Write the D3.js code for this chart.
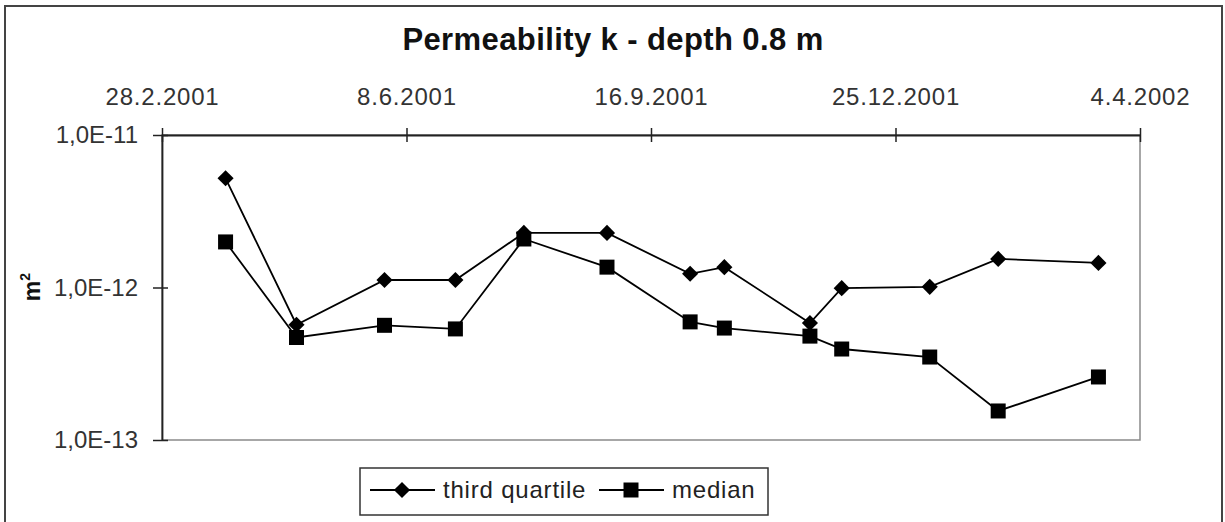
<!DOCTYPE html>
<html lang="en">
<head>
    <meta charset="UTF-8">
    <title>Permeability k - depth 0.8 m</title>
    <script src="https://d3js.org/d3.v7.min.js"></script>
    <style>
        body { margin: 0; background: #fff; }
        svg { display: block; font-family: "Liberation Sans", Arial, sans-serif; }
    </style>
</head>
<body>
    <div id="chart"></div>
    <script>
        // sampling dates (day, month, year)
        var dates = [
            [26, 3, 2001], [24, 4, 2001], [30, 5, 2001], [28, 6, 2001],
            [26, 7, 2001], [29, 8, 2001], [2, 10, 2001], [16, 10, 2001],
            [20, 11, 2001], [3, 12, 2001], [8, 1, 2002], [5, 2, 2002],
            [18, 3, 2002]
        ];
        // permeability in m2
        var thirdQuartile = [5.2e-12, 5.7e-13, 1.12e-12, 1.12e-12, 2.28e-12, 2.28e-12,
            1.23e-12, 1.36e-12, 5.85e-13, 9.9e-13, 1.01e-12, 1.54e-12, 1.45e-12];
        var median = [1.99e-12, 4.7e-13, 5.65e-13, 5.35e-13, 2.08e-12, 1.36e-12,
            5.95e-13, 5.42e-13, 4.8e-13, 3.95e-13, 3.5e-13, 1.55e-13, 2.59e-13];
        // top axis tick dates
        var xTicks = [[28, 2, 2001], [8, 6, 2001], [16, 9, 2001], [25, 12, 2001], [4, 4, 2002]];
        var yTicks = [1e-11, 1e-12, 1e-13];

        function toDate(d) { return new Date(Date.UTC(d[2], d[1] - 1, d[0])); }

        var W = 1225, H = 522;
        var plot = {left: 162, top: 135, right: 1140, bottom: 440};

        var svg = d3.select("#chart").append("svg")
            .attr("width", W).attr("height", H);

        // outer frame
        svg.append("rect")
            .attr("x", 5).attr("y", 6).attr("width", 1217).attr("height", 530)
            .attr("fill", "none").attr("stroke", "#444").attr("stroke-width", 2);

        var x = d3.scaleUtc()
            .domain([toDate(xTicks[0]), toDate(xTicks[xTicks.length - 1])])
            .range([plot.left, plot.right]);
        var y = d3.scaleLog()
            .domain([1e-13, 1e-11])
            .range([plot.bottom, plot.top]);

        // plot area border (gray)
        svg.append("rect")
            .attr("x", plot.left).attr("y", plot.top)
            .attr("width", plot.right - plot.left).attr("height", plot.bottom - plot.top)
            .attr("fill", "none").attr("stroke", "#8a8a8a").attr("stroke-width", 1.5);

        // title
        svg.append("text")
            .attr("x", 613).attr("y", 50)
            .attr("text-anchor", "middle")
            .attr("font-size", 31).attr("font-weight", "bold")
            .attr("letter-spacing", 0.4)
            .attr("fill", "#111")
            .text("Permeability k - depth 0.8 m");

        // top date axis
        var fmt = function(d) {
            return d.getUTCDate() + "." + (d.getUTCMonth() + 1) + "." + d.getUTCFullYear();
        };
        var xAxis = svg.append("g")
            .attr("transform", "translate(0," + plot.top + ")")
            .call(d3.axisTop(x).tickValues(xTicks.map(toDate)).tickFormat(fmt)
                .tickSize(7).tickSizeOuter(0).tickPadding(23));
        xAxis.selectAll(".tick line").attr("y1", 7).attr("stroke", "#222").attr("stroke-width", 1.5);
        xAxis.select(".domain").attr("stroke", "#222").attr("stroke-width", 1.8);
        xAxis.selectAll("text").attr("font-size", 24).attr("fill", "#333")
            .attr("letter-spacing", 0.8)
            .attr("font-family", "Liberation Sans, Arial, sans-serif");

        // left log axis
        var yAxis = svg.append("g")
            .attr("transform", "translate(" + plot.left + ",0)")
            .call(d3.axisLeft(y).tickValues(yTicks)
                .tickFormat(function(d) { return "1,0E" + Math.round(Math.log10(d)); })
                .tickSize(9).tickSizeOuter(0).tickPadding(15));
        yAxis.selectAll(".tick line").attr("x1", 6).attr("stroke", "#222").attr("stroke-width", 1.5);
        yAxis.select(".domain").attr("stroke", "#222").attr("stroke-width", 1.8);
        yAxis.selectAll("text").attr("font-size", 24).attr("fill", "#333")
            .attr("font-family", "Liberation Sans, Arial, sans-serif");

        // y label m2
        var yl = svg.append("text")
            .attr("transform", "translate(40,287) rotate(-90)")
            .attr("text-anchor", "middle")
            .attr("font-size", 23).attr("font-weight", "bold").attr("fill", "#111");
        yl.append("tspan").text("m");
        yl.append("tspan").attr("dy", -10).attr("font-size", 14).text("2");

        var line = d3.line()
            .x(function(d) { return x(d.date); })
            .y(function(d) { return y(d.v); });

        var series = [
            {name: "third quartile", values: thirdQuartile, shape: "diamond"},
            {name: "median", values: median, shape: "square"}
        ];

        function marker(g, shape) {
            if (shape === "square") {
                return g.append("path").attr("d", d3.symbol(d3.symbolSquare, 225)());
            }
            return g.append("path").attr("d", d3.symbol(d3.symbolSquare, 130)())
                .attr("transform", "rotate(45)");
        }

        series.forEach(function(s) {
            var pts = dates.map(function(d, i) { return {date: toDate(d), v: s.values[i]}; });
            svg.append("path")
                .datum(pts)
                .attr("d", line)
                .attr("fill", "none").attr("stroke", "#000").attr("stroke-width", 1.8);
            pts.forEach(function(p) {
                var g = svg.append("g")
                    .attr("transform", "translate(" + x(p.date) + "," + y(p.v) + ")");
                marker(g, s.shape).attr("fill", "#000");
            });
        });

        // legend
        var lg = svg.append("g");
        lg.append("rect")
            .attr("x", 360).attr("y", 468).attr("width", 408).attr("height", 47)
            .attr("fill", "#fff").attr("stroke", "#333").attr("stroke-width", 1.5);
        var legendItems = [
            {name: "third quartile", shape: "diamond", x0: 370},
            {name: "median", shape: "square", x0: 599}
        ];
        legendItems.forEach(function(it) {
            lg.append("line")
                .attr("x1", it.x0).attr("x2", it.x0 + 65)
                .attr("y1", 490).attr("y2", 490)
                .attr("stroke", "#000").attr("stroke-width", 1.8);
            var g = lg.append("g").attr("transform", "translate(" + (it.x0 + 32) + ",490)");
            marker(g, it.shape).attr("fill", "#000");
            lg.append("text")
                .attr("x", it.x0 + 73).attr("y", 498)
                .attr("font-size", 24).attr("letter-spacing", 0.8).attr("fill", "#222")
                .text(it.name);
        });
    </script>
</body>
</html>
